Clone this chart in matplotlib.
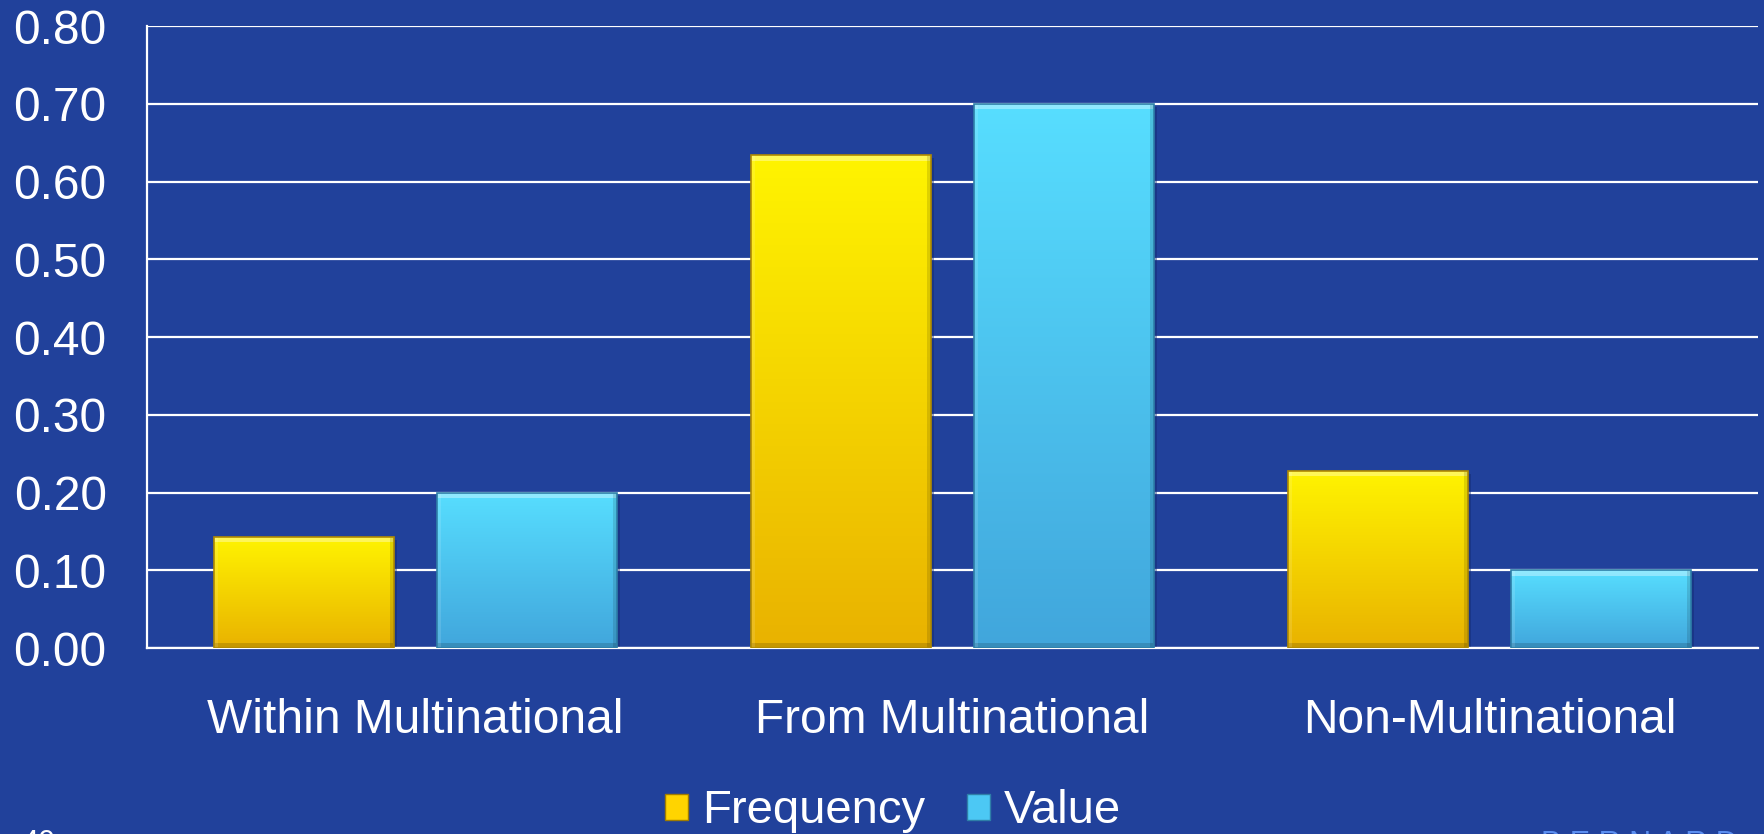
import numpy as np
import matplotlib
matplotlib.use("Agg")
import matplotlib.pyplot as plt
from matplotlib.colors import LinearSegmentedColormap
from matplotlib.patches import Patch

categories = ["Within Multinational", "From Multinational", "Non-Multinational"]
series_names = ["Frequency", "Value"]
frequency = [0.143, 0.634, 0.228]
value = [0.200, 0.700, 0.100]
yticks = [0.0, 0.1, 0.2, 0.3, 0.4, 0.5, 0.6, 0.7, 0.8]
ytick_labels = ["0.00", "0.10", "0.20", "0.30", "0.40", "0.50", "0.60", "0.70", "0.80"]

BG = "#21419B"
plt.rcParams["font.family"] = ["Liberation Sans", "DejaVu Sans"]

fig = plt.figure(figsize=(17.65, 8.34), dpi=100, facecolor=BG)
ax = fig.add_axes([0.0833, 0.223, 0.9127, 0.7458])
ax.set_facecolor(BG)

x = np.arange(len(categories))
width = 0.335
offset = 0.2075

styles = [
    dict(top="#FFF400", bottom="#E9B200", edge="#B08A00", label=series_names[0]),
    dict(top="#57DEFF", bottom="#41A6DC", edge="#2E7FA8", label=series_names[1]),
]

for vals, off, st in [(frequency, -offset, styles[0]), (value, offset, styles[1])]:
    bars = ax.bar(x + off, vals, width, color=st["top"], edgecolor="none",
                  label=st["label"], zorder=3)
    cmap = LinearSegmentedColormap.from_list("g", [st["bottom"], st["top"]])
    grad = np.linspace(0, 1, 256).reshape(-1, 1)
    for b in bars:
        x0, w, h = b.get_x(), b.get_width(), b.get_height()
        ax.add_patch(plt.Rectangle((x0 + 0.006, -0.004), w, h, facecolor="#132a70",
                                   alpha=0.45, edgecolor="none", zorder=2.5))
        im = ax.imshow(grad, extent=[x0, x0 + w, 0, h], origin="lower",
                       aspect="auto", cmap=cmap, zorder=4)
        im.set_clip_path(b)
        bev = 0.007
        ax.add_patch(plt.Rectangle((x0, h - bev), w, bev, facecolor="white",
                                   alpha=0.35, edgecolor="none", zorder=5))
        ax.add_patch(plt.Rectangle((x0, 0), w, bev, facecolor="black",
                                   alpha=0.15, edgecolor="none", zorder=5))
        ax.add_patch(plt.Rectangle((x0, 0), 0.008, h, facecolor="white",
                                   alpha=0.12, edgecolor="none", zorder=5))
        ax.add_patch(plt.Rectangle((x0 + w - 0.008, 0), 0.008, h, facecolor="black",
                                   alpha=0.12, edgecolor="none", zorder=5))
        ax.add_patch(plt.Rectangle((x0, 0), w, h, facecolor="none",
                                   edgecolor=st["edge"], linewidth=1.2, zorder=6))

ax.set_xlim(-0.5, 2.5)
ax.set_ylim(0, 0.8)
ax.set_yticks(yticks)
ax.set_yticklabels(ytick_labels)
ax.set_xticks(x)
ax.set_xticklabels(categories)
ax.tick_params(axis="both", length=0, colors="white", labelsize=34.5)
ax.tick_params(axis="y", pad=29)
ax.tick_params(axis="x", pad=36)
ax.yaxis.grid(True, color="white", linewidth=1.6, zorder=1)
ax.set_axisbelow(True)
for s in ["top", "right"]:
    ax.spines[s].set_visible(False)
ax.spines["left"].set_color("white")
ax.spines["left"].set_linewidth(1.6)
ax.spines["bottom"].set_color("white")
ax.spines["bottom"].set_linewidth(1.6)

handles = [Patch(facecolor="#FFD400", edgecolor="#A07C00", label=series_names[0]),
           Patch(facecolor="#4CC8F4", edgecolor="#2E7FA8", label=series_names[1])]
leg = fig.legend(handles=handles, loc="center", bbox_to_anchor=(0.506, 0.027),
                 ncol=2, frameon=False, fontsize=34, handlelength=0.47,
                 handleheight=0.47, handletextpad=0.3, columnspacing=0.9)
for t in leg.get_texts():
    t.set_color("white")

fig.text(0.012, 1 - 829 / 834, "40", color="white", fontsize=22, va="top", ha="left")
fig.text(0.873, 1 - 830 / 834, "B E R N A R D", color="#5B8EF0", fontsize=22,
         va="top", ha="left")

fig.savefig("out.png", dpi=100, facecolor=BG)
